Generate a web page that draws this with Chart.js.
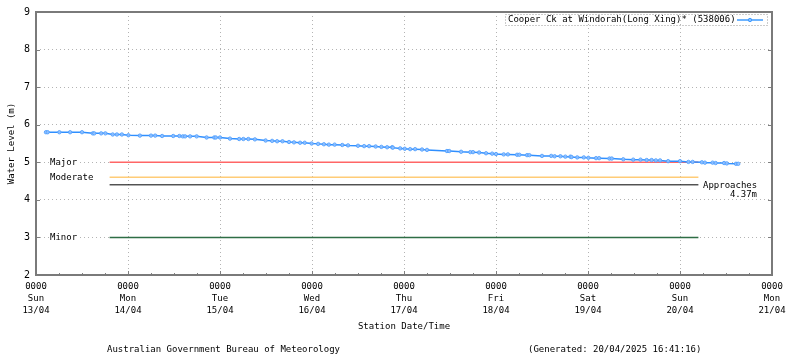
<!DOCTYPE html>
<html>
<head>
<meta charset="utf-8">
<script src="https://cdn.jsdelivr.net/npm/chart.js@4"></script>
<style>
  html, body { margin: 0; padding: 0; background: #fff; }
  #wrap { position: relative; width: 800px; height: 358px; }
</style>
</head>
<body>
<div id="wrap"><canvas id="c" width="800" height="358"></canvas></div>
<script>
// ---- Data (hours since Sun 13/04 00:00, water level in m) ----
const seriesName = 'Cooper Ck at Windorah(Long Xing)* (538006)';
const hours = [
  2.6, 3.05, 6.1, 8.9, 12.0, 14.8, 15.2, 17.0, 18.1, 20.0, 21.1, 22.4, 24.1, 27.1, 30.0, 31.1, 32.9, 35.8, 37.4, 38.3, 38.9, 40.2, 41.9, 44.5, 46.5,
  46.9, 48.0, 50.6, 53.0, 54.1, 55.4, 57.1, 59.9, 61.6, 62.9, 64.3, 66.0, 67.3, 68.9, 70.1, 71.9, 73.6, 75.1, 76.4, 77.9, 79.9, 81.4, 84.0, 85.6, 86.9, 88.6, 90.1, 91.6, 92.9,
  93.1, 95.0, 96.2, 97.6, 98.9, 100.7, 102.0, 107.2, 107.8, 110.9, 113.3, 114.0, 115.6, 117.4, 119.0, 120.0, 122.0, 123.1, 125.5, 126.1, 128.1, 128.7, 132.0, 134.4, 135.3, 136.8, 138.1, 139.4,
  139.7, 141.2, 142.9, 144.1, 146.1, 146.9, 149.6, 150.2, 153.2, 155.8, 157.7, 159.3, 160.6, 161.7, 162.8, 164.9, 168.0, 170.2, 171.3, 173.7, 174.5, 176.5, 177.3, 179.5, 180.2, 182.6, 183.2
];
const levels = [
  5.80, 5.80, 5.80, 5.80, 5.80, 5.77, 5.77, 5.77, 5.77, 5.74, 5.74, 5.74, 5.72, 5.71, 5.71, 5.71, 5.70, 5.70, 5.70, 5.69, 5.69, 5.69, 5.69, 5.66, 5.66,
  5.66, 5.66, 5.63, 5.62, 5.62, 5.62, 5.61, 5.58, 5.57, 5.56, 5.56, 5.54, 5.53, 5.52, 5.52, 5.50, 5.49, 5.48, 5.47, 5.47, 5.46, 5.45, 5.44, 5.43, 5.43, 5.42, 5.41, 5.40, 5.40,
  5.39, 5.37, 5.36, 5.35, 5.35, 5.34, 5.33, 5.30, 5.30, 5.28, 5.27, 5.27, 5.26, 5.24, 5.23, 5.22, 5.21, 5.21, 5.20, 5.20, 5.19, 5.19, 5.17, 5.17, 5.16, 5.16, 5.15, 5.15,
  5.14, 5.13, 5.13, 5.12, 5.11, 5.11, 5.10, 5.10, 5.08, 5.07, 5.07, 5.06, 5.06, 5.05, 5.05, 5.03, 5.03, 5.01, 5.01, 5.00, 4.99, 4.99, 4.98, 4.98, 4.97, 4.96, 4.96
];

// Flood classification lines
const thresholdNames  = ['Major', 'Moderate', 'Approaches', 'Minor'];
const thresholdLevels = [5.0, 4.6, 4.4, 3.0];
const thresholdColors = ['#ff6666', '#ffcc77', '#000000', '#2e6e45'];
const thresholdSpan   = [19.2, 172.8];   // hours
const approachesText  = ['Approaches', '4.37m'];

// Axis ticks
const dayTimes = ['0000','0000','0000','0000','0000','0000','0000','0000','0000'];
const dayNames = ['Sun','Mon','Tue','Wed','Thu','Fri','Sat','Sun','Mon'];
const dayDates = ['13/04','14/04','15/04','16/04','17/04','18/04','19/04','20/04','21/04'];
const yTicks   = [2, 3, 4, 5, 6, 7, 8, 9];

const xTitle = 'Station Date/Time';
const yTitle = 'Water Level (m)';
const footerLeft  = 'Australian Government Bureau of Meteorology';
const footerRight = '(Generated: 20/04/2025 16:41:16)';

const MONO = '"DejaVu Sans Mono", "Liberation Mono", monospace';

const mainData = hours.map((h, i) => ({ x: h, y: levels[i] }));
const thresholdSets = thresholdLevels.map((lv, i) => ({
  label: thresholdNames[i],
  data: [{ x: thresholdSpan[0], y: lv }, { x: thresholdSpan[1], y: lv }],
  borderColor: thresholdColors[i],
  borderWidth: i === 2 ? 1 : 1.5,
  pointRadius: 0,
  order: 2
}));

const decorPlugin = {
  id: 'decor',
  afterDatasetsDraw(chart) {
    const ctx = chart.ctx;
    const ys = chart.scales.y;
    ctx.save();
    ctx.font = '9px ' + MONO;
    ctx.textBaseline = 'middle';
    ctx.fillStyle = '#000';
    [0, 1, 3].forEach(i => {
      const y = ys.getPixelForValue(thresholdLevels[i]);
      const t = thresholdNames[i];
      const w = ctx.measureText(t).width;
      ctx.fillStyle = '#fff';
      ctx.fillRect(49, y - 5, w + 2, 10);
      ctx.fillStyle = '#000';
      ctx.textAlign = 'left';
      ctx.fillText(t, 50, y + 0.5);
    });
    const ay = ys.getPixelForValue(thresholdLevels[2]);
    ctx.textAlign = 'left';
    ctx.fillText(approachesText[0], 703, ay + 1);
    ctx.textAlign = 'right';
    ctx.fillText(approachesText[1], 757, ay + 10);
    ctx.restore();
  },
  afterDraw(chart) {
    const ctx = chart.ctx;
    const a = chart.chartArea;
    const xs = chart.scales.x, ys = chart.scales.y;
    ctx.save();
    ctx.strokeStyle = '#808080';
    ctx.lineWidth = 1;
    ctx.beginPath();
    for (let h = 0; h <= 192; h += 6) {
      const x = Math.round(xs.getPixelForValue(h)) + 0.5;
      const len = (h % 24 === 0) ? 4 : 2;
      ctx.moveTo(x, a.bottom);
      ctx.lineTo(x, a.bottom - len);
    }
    yTicks.forEach(v => {
      const y = Math.round(ys.getPixelForValue(v)) + 0.5;
      ctx.moveTo(a.left, y); ctx.lineTo(a.left + 4, y);
      ctx.moveTo(a.right, y); ctx.lineTo(a.right - 4, y);
    });
    ctx.stroke();
    ctx.strokeStyle = '#7a7a7a';
    ctx.lineWidth = 2;
    ctx.strokeRect(a.left, a.top, a.right - a.left, a.bottom - a.top);

    // legend box
    ctx.setLineDash([1, 2]);
    ctx.lineWidth = 1;
    ctx.strokeStyle = '#999';
    ctx.strokeRect(505.5, 14.5, 262, 11);
    ctx.setLineDash([]);
    ctx.font = '9px ' + MONO;
    ctx.fillStyle = '#000';
    ctx.textAlign = 'left';
    ctx.textBaseline = 'middle';
    ctx.fillText(seriesName, 508, 20);
    ctx.strokeStyle = '#3d9bff';
    ctx.lineWidth = 1.5;
    ctx.beginPath();
    ctx.moveTo(737, 20); ctx.lineTo(763, 20);
    ctx.stroke();
    ctx.fillStyle = 'rgba(140,190,255,0.9)';
    ctx.strokeStyle = '#3d9bff';
    ctx.lineWidth = 1;
    ctx.beginPath();
    ctx.arc(750, 20, 1.7, 0, Math.PI * 2);
    ctx.fill(); ctx.stroke();

    // footer
    ctx.fillStyle = '#000';
    ctx.font = '9px ' + MONO;
    ctx.textBaseline = 'middle';
    ctx.textAlign = 'left';
    ctx.fillText(footerLeft, 107, 350);
    ctx.fillText(footerRight, 528, 350);
    ctx.restore();
  }
};

new Chart(document.getElementById('c'), {
  type: 'line',
  data: {
    datasets: [
      {
        label: seriesName,
        data: mainData,
        borderColor: '#2f8fff',
        borderWidth: 1.5,
        pointRadius: 1.7,
        pointBackgroundColor: 'rgba(150,195,255,0.85)',
        pointBorderColor: 'rgba(80,160,255,0.9)',
        pointBorderWidth: 1,
        order: 0
      },
      ...thresholdSets
    ]
  },
  options: {
    responsive: false,
    animation: false,
    devicePixelRatio: 1,
    layout: { padding: { top: 11, right: 28, left: 0, bottom: 0 } },
    plugins: { legend: { display: false }, tooltip: { enabled: false } },
    scales: {
      x: {
        type: 'linear',
        min: 0, max: 192,
        afterFit(s) { s.height = 83; },
        ticks: {
          stepSize: 24,
          autoSkip: false,
          maxRotation: 0,
          padding: 6,
          color: '#000',
          font: { family: MONO, size: 9, lineHeight: 1.333 },
          callback(v) {
            const i = Math.round(v / 24);
            return [dayTimes[i], dayNames[i], dayDates[i]];
          }
        },
        grid: { color: '#b4b4b4', lineWidth: 1, drawTicks: false },
        border: { display: false, dash: [1, 3] },
        title: {
          display: true, text: xTitle, color: '#000',
          font: { family: MONO, size: 9, lineHeight: 1.333 },
          padding: { top: 0, bottom: 25 }
        }
      },
      y: {
        min: 2, max: 9,
        afterFit(s) { s.width = 36; },
        ticks: {
          stepSize: 1,
          padding: 6,
          color: '#000',
          font: { family: MONO, size: 10 }
        },
        grid: { color: '#b4b4b4', lineWidth: 1, drawTicks: false },
        border: { display: false, dash: [1, 3] },
        title: {
          display: true, text: yTitle, color: '#000',
          font: { family: MONO, size: 9, lineHeight: 1.2 },
          padding: { top: 6, bottom: 0 }
        }
      }
    }
  },
  plugins: [decorPlugin]
});
</script>
</body>
</html>
